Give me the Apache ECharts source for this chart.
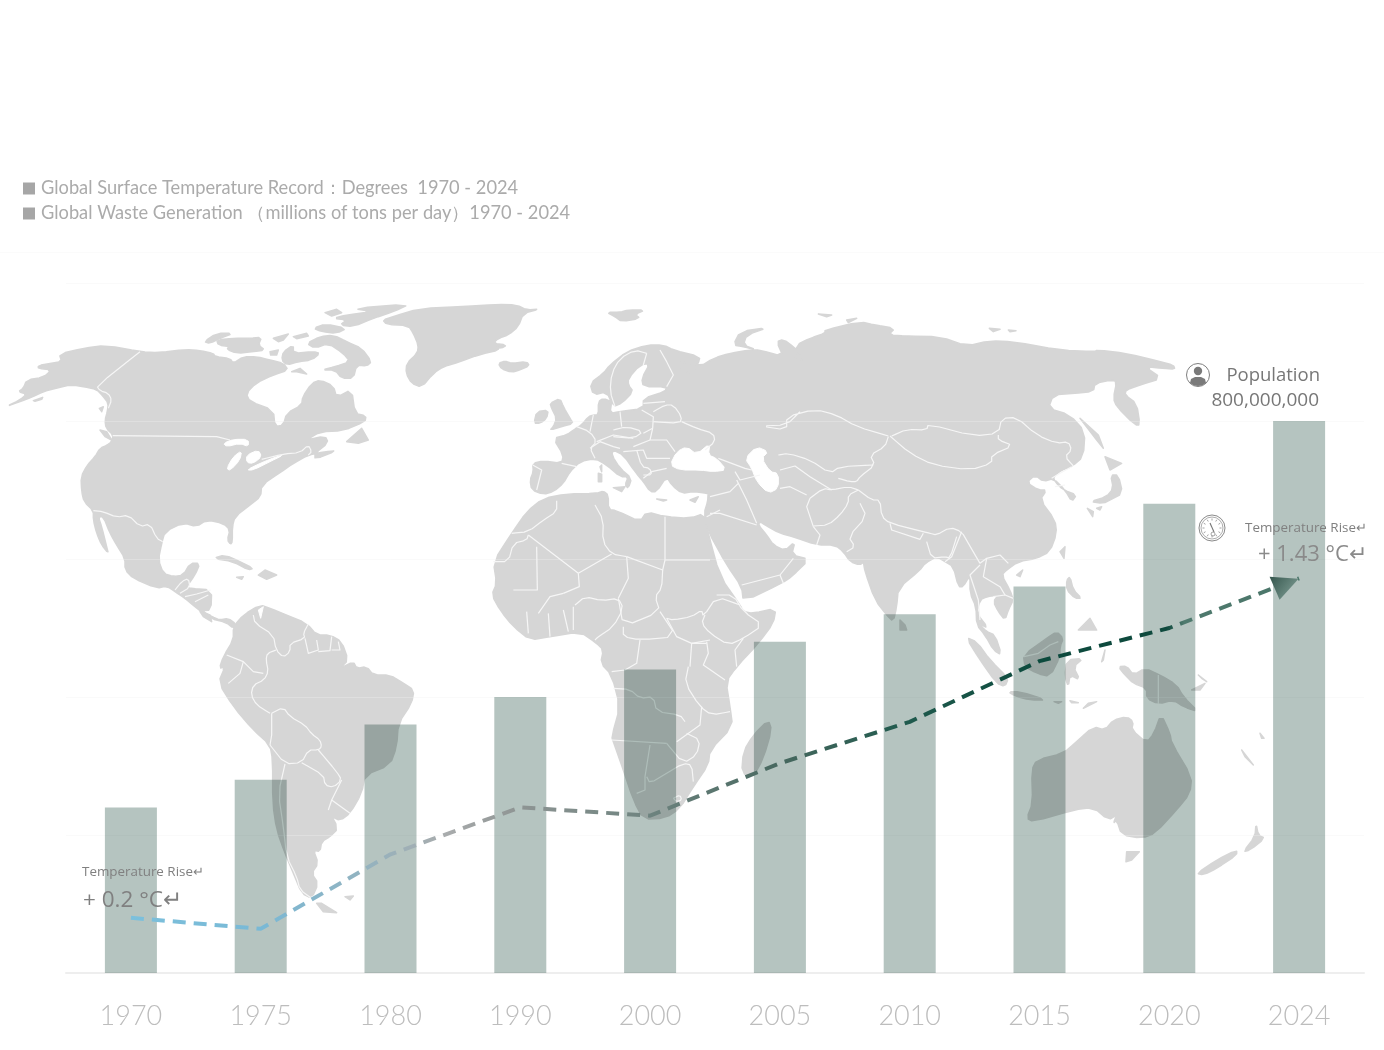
<!DOCTYPE html>
<html><head><meta charset="utf-8">
<script src="https://cdn.jsdelivr.net/npm/echarts@6/dist/echarts.min.js"></script>
<style>html,body{margin:0;background:#fff}#c{width:1384px;height:1050px}</style>
</head><body><div id="c"></div>
<script>
const years = ['1970','1975','1980','1990','2000','2005','2010','2015','2020','2024'];
const wasteValues = [240,280,360,400,440,480,520,560,680,800];
const tempValues = [0.20,0.16,0.43,0.60,0.57,0.76,0.91,1.13,1.25,1.43];
const tempName = 'Global Surface Temperature Record：Degrees  1970 - 2024';
const wasteName = 'Global Waste Generation （millions of tons per day）1970 - 2024';

// Backdrop illustration: traced outlines (zoom-crop coordinates with their crop origin)
const R=(ox,oy,a)=>{const o=[];for(let i=0;i<a.length;i+=2)o.push([ox+a[i]/3,oy+a[i+1]/3]);return o;};
const N=(a)=>R(0,300,a), E=(a)=>R(380,295,a), A=(a)=>R(760,300,a), F=(a)=>R(480,480,a), S=(a)=>R(190,600,a), O=(a)=>R(950,560,a);
// corner rounding of the traced outlines
const rounded=(p,closed)=>{ if(p.length<5) return p; const o=[]; const n=p.length;
  if(!closed) o.push(p[0]);
  for(let i=0;i<(closed?n:n-1);i++){const a=p[i],b=p[(i+1)%n];
    o.push([a[0]*.75+b[0]*.25,a[1]*.75+b[1]*.25],[a[0]*.25+b[0]*.75,a[1]*.25+b[1]*.75]);}
  if(!closed) o.push(p[n-1]); return o;};

const land=[
 N([18,320,60,305,95,292,130,275,165,265,215,254,250,260,290,268,310,290,325,310,322,335,315,360,318,385,340,405,335,425,322,435,300,445,285,470,262,495,243,530,245,575,252,605,280,632,280,660,290,700,305,735,325,760,320,740,305,680,295,650,310,650,330,700,350,735,375,775,375,810,400,835,470,865,500,858,525,875,555,895,585,920,630,955,680,968,700,985,708,972,685,955,660,960,635,950,605,932,633,930,635,870,570,865,560,860,585,825,600,790,570,790,550,825,520,830,490,820,475,780,485,730,495,695,550,668,590,680,620,660,670,670,690,690,682,720,692,733,697,725,697,680,705,650,750,615,782,590,785,555,840,518,880,490,925,465,975,455,1010,452,945,478,945,460,985,428,975,408,920,420,960,395,1030,392,1095,365,1098,348,1065,340,1055,268,1010,292,1000,258,960,240,935,250,908,290,905,315,860,340,850,375,825,380,820,330,750,305,738,280,770,248,820,225,865,210,850,190,810,180,770,170,730,170,700,190,690,175,645,170,640,160,600,152,555,148,480,158,420,155,320,136,250,145,178,162,185,185,150,190,115,197,115,205,155,210,130,232,80,240,70,265,55,275,80,282,60,300]),
 N([612,125,650,100,700,100,660,115,630,130]),
 N([650,120,700,115,750,115,785,112,775,135,795,150,760,155,710,160,680,148,690,140,655,135]),
 N([820,115,865,102,850,120,835,125]), N([880,110,920,100,925,108,890,116]), N([810,155,835,150,830,165,812,165]),
 N([920,130,960,110,1000,105,1040,125,1085,145,1115,185,1100,198,1070,195,1060,235,1025,235,1005,210,965,210,1005,200,1050,185,1030,160,985,130,945,145]),
 N([850,155,880,135,880,160,940,155,960,160,935,180,895,185,860,195,845,180]),
 N([1060,25,1230,12,1180,35,1120,55,1060,80,1020,75,1040,60,1000,55,1040,45,1115,35]),
 N([975,38,1010,28,1025,38,995,48]), N([940,85,975,72,1040,85,1010,100,965,95]), N([875,215,900,205,920,222,890,215]),
 N([1040,425,1085,385,1105,420,1075,430]), N([300,390,320,395,335,420,315,410]), N([298,325,310,320,305,335]), N([100,302,128,292,125,298,105,304]),
 N([640,775,675,765,720,785,760,805,745,810,700,785]), N([775,825,795,810,830,825,800,838]), N([710,832,730,830,725,838]), N([600,935,630,945,635,965,610,950]),
 E([8,75,40,65,120,40,250,35,350,28,410,30,440,45,480,42,430,55,415,95,385,120,355,130,340,145,380,150,365,160,340,155,360,165,300,178,240,200,190,215,160,235,125,277,95,265,78,235,80,205,112,175,115,150,100,115,85,92,20,88]),
 E([355,205,375,198,395,205,440,200,448,212,420,225,395,232,365,222]),
 E([680,52,720,52,745,45,795,45,765,58,780,70,725,80,705,65]),
 E([510,405,545,395,580,385,570,370,550,335,540,310,510,325,515,340,530,370,520,395]),
 E([462,385,470,350,505,345,500,370,480,385]),
 E([1060,150,1080,110,1165,97,1100,120,1090,150,1130,165,1090,155]),
 E([700,578,735,575,725,590]), E([655,535,665,538,665,560,655,560]), E([660,515,665,510,665,530]), E([830,612,860,615,850,618]), E([930,615,955,605,945,622]),
 [...E([455,585,450,555,460,530,458,505,490,498,545,505,550,480,520,430,560,420,580,405,605,390,625,365,640,360,655,360,655,320,670,310,695,320,690,355,720,350,790,340,790,310,855,290,860,275,790,275,785,250,810,205,780,210,745,250,745,270,760,290,725,325,700,335,680,290,640,300,630,265,670,235,690,210,740,170,800,150,850,150,880,165,960,185,955,205,935,235,905,225,885,195,960,215,1000,190,1050,175,1110,165]),
  ...A([0,150,70,170,50,125,70,118,100,140,130,170,120,190,105,185,108,135,150,115,195,100,195,90,300,65,345,75,405,85,385,105,440,108,540,110,620,138,690,122,760,125,900,150,1005,155,1010,150,1100,160,1200,185,1240,195,1245,208,1210,205,1155,200,1205,235,1140,255,1098,270,1095,285,1130,310,1140,375,1125,375,1070,320,1060,295,1070,245,1055,240,1005,250,1000,275,940,280,880,285,865,325,930,345,975,395,970,470,935,500,905,510,880,530,885,545,910,570,950,585,935,605,915,570,880,535,850,545,825,525,800,548,835,570,860,570,840,600,885,660,890,700,870,755,830,775,775,785,740,810,725,825,750,870,760,900,745,930,735,960,715,935,700,905,715,885,680,890,660,900,650,940,685,985]),
  ...O([85,190,110,215,135,225,155,285,130,270,105,225,80,195,78,140,60,100]),
  ...A([630,825,610,860,595,860,580,800,555,785,530,770,495,790,480,810,415,865,410,920,400,965,380,945,345,900,315,815,310,785,300,795,270,785,250,755,225,735,170,735,105,712,60,700,15,675,0,665]),
  ...F([835,135,860,165,880,195,915,212,945,185,935,225,988,238,935,290,905,310,790,365,785,320,740,255,682,150,672,100,683,65,684,45]),
  ...E([985,595,940,590,905,595,875,570,860,545,830,590,810,590,790,560,765,530,730,480,700,465,695,480,720,520,755,550,745,580,735,570,745,545,720,545,680,510,645,490,600,500,570,530,550,565,520,590,490,598])],
 A([175,42,215,45,200,50]), A([260,60,290,55,265,68]), A([688,85,720,88,700,95]), A([745,90,768,92,750,95]),
 A([960,355,1015,405,1030,445,1010,420]), A([1035,470,1085,490,1050,510]), A([990,605,1040,590,1060,565,1052,525,1075,525,1088,580,1050,600,1030,610]),
 A([982,625,1000,635,998,650]), A([1010,625,1025,620,1020,630]), A([900,755,915,740,912,775]), A([770,825,788,810,780,830]),
 A([920,840,930,830,940,870,965,895,945,895,920,870]), A([955,990,990,955,1010,990]), A([420,960,435,975,440,990,420,990]),
 F([190,55,260,42,350,40,370,33,385,45,385,88,410,92,480,125,500,95,555,110,630,115,672,100,682,150,720,290,780,375,790,395,820,400,888,385,880,430,835,490,770,560,738,605,750,680,758,740,690,810,685,855,640,920,600,985,555,1015,490,1018,460,960,430,870,400,785,395,770,420,680,395,585,362,550,370,510,350,490,300,455,210,470,150,480,100,440,60,390,35,345,50,310,40,245,95,160,140,95]),
 F([785,880,790,815,820,765,865,720,875,750,850,835,820,890]),
 S([130,80,160,45,210,15,240,25,290,45,350,70,380,105,420,105,455,125,475,180,450,205,490,185,500,205,530,200,550,225,600,225,640,250,672,270,665,310,625,370,620,440,600,495,525,525,515,580,480,640,450,662,425,650,415,630,445,685,420,710,395,725,390,755,370,750,385,790,365,820,385,850,365,895,335,880,310,820,285,760,260,690,248,610,248,480,240,435,190,390,130,320,85,248,105,200,88,205,100,170,130,120]),
 S([465,890,490,888,480,900]), S([380,910,395,910,440,938,400,935]),
 O([48,232,80,245,120,300,175,355,165,380,140,370,90,300]),
 O([175,395,210,395,290,420,240,420,195,408]),
 O([220,285,290,235,320,215,340,235,330,260,330,290,300,350,260,340,225,320]),
 O([350,300,400,295,370,320,390,360,360,345,355,380,345,350]),
 O([312,425,335,425,325,430]), O([360,422,385,428,365,428]), O([400,445,440,425,415,430]), O([455,305,465,270,460,300]),
 O([505,320,530,318,550,345,585,325,630,345,680,375,700,410,745,455,700,440,670,420,625,432,590,415,590,385,550,370,525,345]),
 O([230,775,248,730,245,630,260,600,340,580,380,545,430,500,465,510,490,480,530,470,550,485,545,510,590,548,612,520,633,462,660,520,665,550,725,650,720,700,680,750,615,820,575,835,515,825,500,780,490,790,500,765,475,780,430,742,370,750,250,785]),
 O([530,875,568,875,545,900,528,905]),
 O([740,940,800,900,860,870,860,885,800,925,760,945]),
 O([880,875,915,830,918,790,925,825,945,835,900,870]),
 O([875,570,910,615,885,590]), O([930,520,942,535,935,535]), O([725,390,765,370,750,390]), O([745,345,770,365,755,355])
];
const water=[
 N([670,430,700,418,745,418,745,440,720,430,680,440]),
 N([700,470,725,452,720,480,690,512,680,505]),
 N([740,465,775,450,785,470,760,490,740,488]),
 N([740,510,780,490,830,470,850,465,810,485,760,510]),
 E([870,510,890,470,920,455,950,478,990,445,985,480,1010,490,1040,525,1000,530,960,525,900,525]),
 E([1095,490,1130,455,1165,470,1145,490,1170,530,1195,535,1195,580,1165,595,1130,560,1115,520]),
 S([205,30,220,20,212,55])
];
const borders=[
 N([420,155,290,258,300,272,325,280,335,300,325,325]), N([338,407,650,410,690,420]), N([785,478,850,462,900,458,925,435,935,455,925,465]),
 N([280,632,310,635,350,652,385,645,420,680,450,672,470,715,488,725]), N([525,870,545,845,565,835,570,862,540,880]), N([555,890,590,882,632,870]), N([585,905,625,885]),
 S([190,45,195,70,250,105,258,150,280,172,300,155,300,130,345,115,340,100,355,72]), S([345,115,355,160,385,150,380,120]), S([385,155,420,152,425,110]), S([425,150,450,150,445,125]),
 S([258,150,232,160,228,180,235,215,222,240,190,255,183,285,200,315,240,340]), S([110,165,160,185,190,215,220,220]), S([160,185,150,220,115,250]),
 S([245,340,245,405,240,435]), S([245,340,280,322,300,350,345,375,365,402,390,420,395,440,385,450,355,450,335,488,285,492,240,435]),
 S([285,492,265,580,280,680,290,770,320,830,330,870,365,895]), S([335,488,400,525,405,555,430,562,455,540,440,515,385,450]), S([455,540,425,600,415,630]), S([425,600,480,640]),
 F([230,62,230,95,190,120,145,155,95,160]), F([40,245,85,245,100,190,140,180,145,165]), F([145,165,295,280,395,222]), F([170,200,172,330,100,330]),
 F([345,75,370,120,368,185,395,222,440,230]), F([555,110,555,240]), F([555,240,690,240]), F([555,240,548,270,440,230]), F([440,230,445,295,415,355]), F([295,280,298,320,250,340]),
 F([250,340,210,350,175,400]), F([285,375,315,350,365,362,415,355,430,385,400,440,355,470,345,480]), F([548,270,545,325,525,350,540,395,430,440,415,355]), F([540,395,590,470,480,480,430,470,430,440]),
 F([560,415,580,420,635,410,665,390,670,410,710,350,780,375]), F([710,345,760,345,790,395,850,435,790,475,745,495,690,460,665,430,675,405]), F([560,415,590,470,635,490,690,480]),
 F([680,485,685,520,670,555,735,600]), F([770,560,765,510,790,475]), F([480,480,470,550,435,570,395,575]), F([400,625,450,628,480,655,520,650,530,695,600,705,615,725]), F([395,780,560,790]),
 F([625,560,615,610,660,680,695,705,750,695]), F([630,560,635,490,680,490]), F([665,680,660,735,590,785]), F([620,760,660,780,650,825,610,850,560,790]), F([510,795,495,890,495,930,470,940]),
 F([500,890,510,910,560,880,610,850,635,855,640,905]), F([580,955,600,945,605,960,590,965,580,955]), F([140,395,145,460]), F([205,400,210,470]), F([250,390,265,455]), F([280,380,280,450]),
 F([690,100,720,100,830,135]), F([690,50,750,35,775,10]), F([770,0,800,60,830,130]), F([680,110,720,90]), F([785,315,900,285,940,235]), F([900,285,910,310]),
 E([458,510,485,525,470,585]), E([545,505,590,515]), E([590,395,630,410,650,440,630,460,645,490]), E([630,460,660,440,700,455,720,460]), E([640,360,630,410]), E([720,350,725,395]), E([650,440,700,420,760,430]),
 E([700,405,740,395,790,410,760,430,700,425]), E([785,345,820,365,818,400,790,415]), E([820,380,900,385,905,365,880,330,855,330,820,350]), E([818,400,810,435,860,435,885,470]), E([905,380,950,400,1000,415,1005,440,975,465]),
 E([790,325,855,320]), E([800,175,765,165,720,190,695,235,690,290,705,335]), E([800,175,790,210]), E([840,165,860,200,880,240,860,275]), E([760,455,810,435]), E([730,470,790,465,800,490,870,490]), E([770,465,785,515,810,520,815,540,790,540]), E([790,550,815,530,860,520]),
 E([1015,490,1095,520,1115,525]), E([1065,530,1080,555,1140,540]),
 [...E([1260,350,1220,390]), ...A([0,378,80,390,80,350,165,328,230,345,290,380,385,408])],
 A([395,408,440,388,500,390,505,372,640,408,715,400,725,355,770,352,830,405,890,430,925,425,935,450,915,470,940,498]), A([390,408,450,460,520,495,630,510,695,490,695,465,760,437,715,420,715,405]),
 A([385,410,375,440,330,465,345,495,300,530,290,545,270,545,235,535]), A([55,465,85,460,150,480,210,520,240,500,340,495]), A([60,510,105,498,150,530,215,570]), A([150,595,190,565,215,570,265,560,295,570]), A([295,570,265,585,265,610,240,645,205,675,160,678]),
 A([150,595,140,620,160,680]), A([160,680,180,705,170,735]), A([60,565,90,560,140,585]), A([300,610,320,650,265,710,285,740,260,755]), A([295,570,335,600,360,600,365,650,390,670,490,695,510,700,530,705,570,682,605,695,625,730,660,790]),
 A([390,670,395,690,480,718,490,700]), A([500,725,515,775,555,770,570,775,590,710]), A([605,695,575,770,555,785]), A([660,790,680,775,720,765,745,790]), A([660,795,630,825,655,900,660,960]), A([680,775,670,830,720,860,735,885]), A([700,890,735,885,760,895]), A([875,535,900,520,935,500]), A([885,560,915,555]),
 O([222,290,265,280,300,255,325,245]), O([625,345,625,432])
];

const mapEls=[
 ...land.map(p=>({type:'polygon',z:-3,silent:true,shape:{points:rounded(p,true)},style:{fill:'#d6d6d6',stroke:'#d6d6d6',lineWidth:1.5,lineJoin:'round'}})),
 ...water.map(p=>({type:'polygon',z:-2,silent:true,shape:{points:rounded(p,true)},style:{fill:'#fff',stroke:'#fff',lineWidth:1,lineJoin:'round'}})),
 ...borders.map(p=>({type:'polyline',z:-1,silent:true,shape:{points:rounded(p,false)},style:{fill:'none',stroke:'#f6f6f6',lineWidth:1.2,lineJoin:'round'}})),
 {type:'line',z:-4,silent:true,shape:{x1:0,y1:252.5,x2:1384,y2:252.5},style:{stroke:'#fbfbfb',lineWidth:1}}
];
const txt=(x,y,t,size,color,align)=>({type:'text',z:20,silent:true,x,y,style:{text:t,fontFamily:'"Open Sans"',fontSize:size,fill:color,align:align||'left',verticalAlign:'middle'}});
const tickEls=[];
for(let i=0;i<24;i++){const a=i*Math.PI/12,c=Math.cos(a),s=Math.sin(a);
 if(i%2==0)tickEls.push({type:'line',z:20,silent:true,shape:{x1:1212+c*7.5,y1:528+s*7.5,x2:1212+c*9.5,y2:528+s*9.5},style:{stroke:'#8a8a8a',lineWidth:0.8}});}
const iconEls=[
 {type:'circle',z:20,silent:true,shape:{cx:1198,cy:375,r:11.5},style:{fill:'#fff',stroke:'#7f7f7f',lineWidth:1}},
 {type:'circle',z:21,silent:true,shape:{cx:1198,cy:371,r:4.2},style:{fill:'#7a7a7a'}},
 {type:'polygon',z:21,silent:true,shape:{points:[[1190,383],[1191,379],[1195,377],[1201,377],[1205,379],[1206,383],[1202,385.5],[1198,386],[1194,385.5]]},style:{fill:'#7a7a7a'}},
 {type:'circle',z:20,silent:true,shape:{cx:1212,cy:528,r:13},style:{fill:'#fff',stroke:'#8a8a8a',lineWidth:1}},
 {type:'circle',z:20,silent:true,shape:{cx:1212,cy:528,r:11},style:{fill:'none',stroke:'#8a8a8a',lineWidth:0.7}},
 ...tickEls,
 {type:'line',z:20,silent:true,shape:{x1:1210,y1:523,x2:1214,y2:532},style:{stroke:'#777',lineWidth:1.1}},
 {type:'circle',z:20,silent:true,shape:{cx:1213,cy:534,r:2},style:{fill:'none',stroke:'#8a8a8a',lineWidth:0.8}}
];
const labelEls=[
 txt(1320,375.5,'Population',18.5,'#777','right'),
 txt(1319,400.5,'800,000,000',19,'#777','right'),
 txt(1245,528,'Temperature Rise↵',13.4,'#808080'),
 txt(1258,555,'+ 1.43 °C↵',22,'#8a8a8a'),
 txt(82,872.5,'Temperature Rise↵',13.4,'#808080'),
 txt(83,901,'+ 0.2 °C↵',22.5,'#808080')
];
const triPath='path://M0 0 L29 2 L10 23 Z';
const lineData=tempValues.map((v,i)=>i===tempValues.length-1?{
  value:v,symbol:triPath,symbolSize:[29,23],symbolOffset:[-15,10],
  itemStyle:{opacity:1,color:{type:'linear',x:0,y:0,x2:1,y2:0.6,colorStops:[{offset:0,color:'#35564d'},{offset:1,color:'#7b9a91'}]}}
}:v);

const chart=echarts.init(document.getElementById('c'),null,{renderer:'canvas'});
chart.setOption({
 animation:false,backgroundColor:'#fff',
 legend:{orient:'vertical',left:18,top:174.5,itemWidth:12,itemHeight:12,itemGap:7,icon:'rect',
   data:[tempName,wasteName],selectedMode:false,
   itemStyle:{color:'#a6a6a6'},textStyle:{color:'#ababab',fontSize:18.25,fontFamily:'Lato',padding:[0,0,0,1]}},
 grid:{left:66,right:20,top:283,bottom:77},
 xAxis:{type:'category',data:years,axisTick:{show:false},axisLine:{lineStyle:{color:'#eeeeee',width:2}},
   axisLabel:{color:'#bdbdbd',fontSize:27,fontFamily:'Lato',fontWeight:300,margin:30}},
 yAxis:[
  {type:'value',min:0,max:1000,interval:200,axisLabel:{show:false},axisLine:{show:false},axisTick:{show:false},splitLine:{lineStyle:{color:'rgba(240,240,240,0.35)',width:1}}},
  {type:'value',min:0,max:2.5,show:false,splitLine:{show:false}}
 ],
 graphic:{elements:[...mapEls,...iconEls,...labelEls]},
 series:[
  {name:wasteName,type:'bar',data:wasteValues,barWidth:52,blendMode:'multiply',z:3,itemStyle:{color:'#b5c4c0'}},
  {name:tempName,type:'line',yAxisIndex:1,data:lineData,symbol:'none',z:5,
   lineStyle:{width:4,type:[13,8],cap:'butt',color:{type:'linear',x:0,y:0,x2:1,y2:0,colorStops:[
    {offset:0,color:'#7cc0dc'},{offset:0.11,color:'#79b9d6'},{offset:0.2,color:'#93b3c0'},{offset:0.27,color:'#a9acad'},
    {offset:0.33,color:'#8f9594'},{offset:0.44,color:'#6f8480'},{offset:0.555,color:'#47685f'},{offset:0.666,color:'#1f5a4d'},
    {offset:0.78,color:'#0c4a3d'},{offset:0.885,color:'#0f4a3e'},{offset:0.9,color:'#4f7a6e'},{offset:1,color:'#4a7569'}]}}}
 ]
});
</script></body></html>
